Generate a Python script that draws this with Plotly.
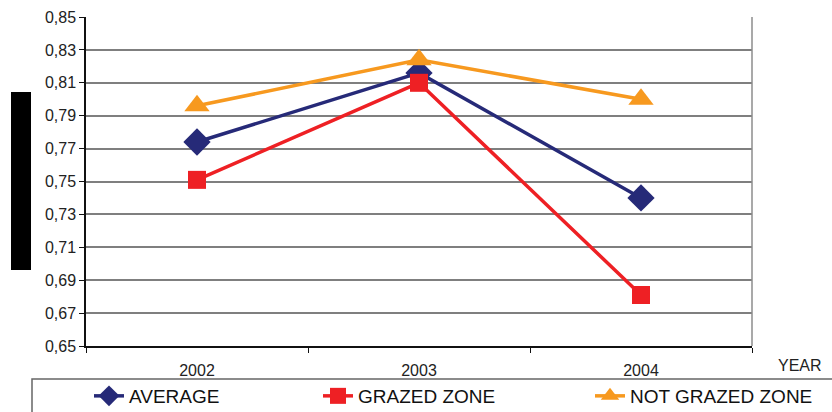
import plotly.graph_objects as go

years = ["2002", "2003", "2004"]
average = [0.774, 0.816, 0.740]
grazed_zone = [0.751, 0.810, 0.681]
not_grazed_zone = [0.796, 0.824, 0.800]

y_ticks = [0.65, 0.67, 0.69, 0.71, 0.73, 0.75, 0.77, 0.79, 0.81, 0.83, 0.85]

W, H = 832, 412
L, R, T, B = 86, 80, 17, 66
PW, PH = W - L - R, H - T - B


def px_x(x):
    return (x - L) / PW


def px_y(y):
    return (H - B - y) / PH


series = [
    ("AVERAGE", average, "#262a78", "diamond", 21, "legend"),
    ("GRAZED ZONE", grazed_zone, "#ee2024", "square", 18, "legend2"),
    ("NOT GRAZED ZONE", not_grazed_zone, "#f7991f", "triangle-up", 22, "legend3"),
]

fig = go.Figure()
for name, vals, color, symbol, size, leg in series:
    fig.add_trace(
        go.Scatter(
            x=years,
            y=vals,
            name=name,
            mode="lines+markers",
            line=dict(color=color, width=3.5),
            marker=dict(symbol=symbol, size=size, color=color),
            legend=leg,
            showlegend=True,
            cliponaxis=False,
        )
    )

# legends are placed in container (whole-figure) coordinates so they don't push margins
legend_style = dict(
    orientation="h",
    xref="container",
    yref="container",
    yanchor="middle",
    y=1 - 396 / H,
    xanchor="left",
    bgcolor="rgba(0,0,0,0)",
    font=dict(family="Liberation Sans, Arial, sans-serif", size=19, color="#111"),
)

fig.update_layout(
    width=W,
    height=H,
    showlegend=True,
    margin=dict(l=L, r=R, t=T, b=B, autoexpand=False),
    paper_bgcolor="white",
    plot_bgcolor="white",
    separators=", ",
    font=dict(family="Liberation Sans, Arial, sans-serif", size=16, color="#222"),
    legend=dict(legend_style, x=89 / W),
    legend2=dict(legend_style, x=318 / W),
    legend3=dict(legend_style, x=590 / W),
    xaxis=dict(
        type="category",
        range=[-0.5, 2.5],
        showline=True,
        linecolor="#111",
        linewidth=1.5,
        showgrid=False,
        ticks="outside",
        tickson="boundaries",
        ticklen=5,
        tickcolor="#111",
        ticklabelstandoff=9,
        zeroline=False,
    ),
    yaxis=dict(
        range=[0.65, 0.85],
        tickvals=y_ticks,
        tickformat=".2f",
        showline=True,
        linecolor="#111",
        linewidth=1.5,
        showgrid=True,
        gridcolor="#7f7f7f",
        gridwidth=1.5,
        ticks="outside",
        ticklen=5,
        tickcolor="#111",
        zeroline=False,
    ),
    shapes=[
        # right border of plot area
        dict(type="line", xref="paper", yref="paper", x0=1, x1=1, y0=0, y1=1,
             line=dict(color="#8c8c8c", width=1.5)),
        # legend frame
        dict(type="rect", xref="paper", yref="paper",
             x0=px_x(32), x1=px_x(840), y0=px_y(379), y1=px_y(420),
             line=dict(color="#666", width=1.5)),
        # black box over the y axis title
        dict(type="rect", xref="paper", yref="paper",
             x0=px_x(11), x1=px_x(31), y0=px_y(270), y1=px_y(92),
             fillcolor="black", line=dict(width=0)),
    ],
    annotations=[
        dict(text="YEAR", xref="paper", yref="paper", x=px_x(800), y=px_y(365),
             xanchor="center", yanchor="middle",
             showarrow=False, font=dict(size=16, color="#222")),
    ],
)

# drop the default body margin so the figure sits at the page's top-left corner
fig.write_html(
    "out.html",
    config={"displayModeBar": False},
    post_script="document.body.style.margin='0';",
)
